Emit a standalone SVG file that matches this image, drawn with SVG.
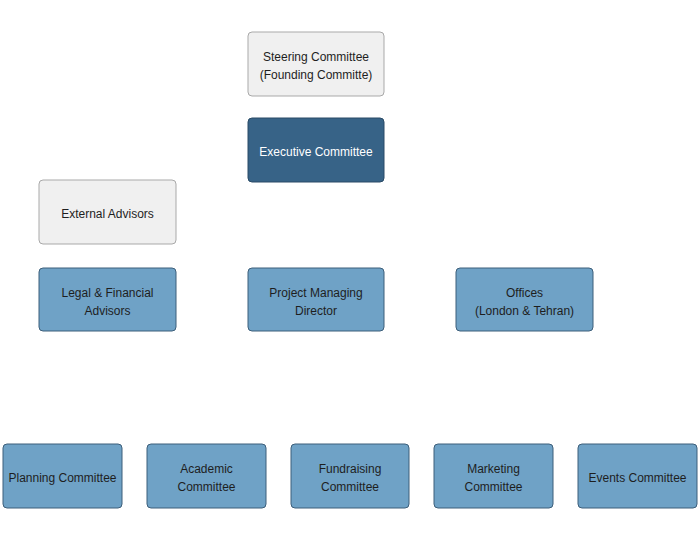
<svg xmlns="http://www.w3.org/2000/svg" width="700" height="540" viewBox="0 0 700 540">
<style>
.n rect{stroke-width:1}
.light rect{fill:#f0f0f0;stroke:#a9a9a9}
.blue rect{fill:#6fa2c6;stroke:#3d5f7a}
.dark rect{fill:#376387;stroke:#2a4b66}
text{font-family:"Liberation Sans",Arial,sans-serif;font-size:12px;text-anchor:middle;fill:#1e1e1e}
.dark text{fill:#ffffff}
</style>
<rect width="700" height="540" fill="#ffffff"/>
<g id="connectors"></g>
<g id="steering" class="n light"><rect x="248" y="32" width="136" height="64" rx="4"/><text x="316" y="61">Steering Committee</text><text x="316" y="79">(Founding Committe)</text></g>
<g id="executive" class="n dark"><rect x="248" y="118" width="136" height="64" rx="4"/><text x="316" y="156">Executive Committee</text></g>
<g id="external" class="n light"><rect x="39" y="180" width="137" height="64" rx="4"/><text x="107.5" y="218">External Advisors</text></g>
<g id="legal" class="n blue"><rect x="39" y="268" width="137" height="63" rx="4"/><text x="107.5" y="297">Legal &amp; Financial</text><text x="107.5" y="315">Advisors</text></g>
<g id="pmd" class="n blue"><rect x="248" y="268" width="136" height="63" rx="4"/><text x="316" y="297">Project Managing</text><text x="316" y="315">Director</text></g>
<g id="offices" class="n blue"><rect x="456" y="268" width="137" height="63" rx="4"/><text x="524.5" y="297">Offices</text><text x="524.5" y="315">(London &amp; Tehran)</text></g>
<g id="planning" class="n blue"><rect x="3" y="444" width="119" height="64" rx="4"/><text x="62.5" y="482">Planning Committee</text></g>
<g id="academic" class="n blue"><rect x="147" y="444" width="119" height="64" rx="4"/><text x="206.5" y="473">Academic</text><text x="206.5" y="491">Committee</text></g>
<g id="fundraising" class="n blue"><rect x="291" y="444" width="118" height="64" rx="4"/><text x="350" y="473">Fundraising</text><text x="350" y="491">Committee</text></g>
<g id="marketing" class="n blue"><rect x="434" y="444" width="119" height="64" rx="4"/><text x="493.5" y="473">Marketing</text><text x="493.5" y="491">Committee</text></g>
<g id="events" class="n blue"><rect x="578" y="444" width="119" height="64" rx="4"/><text x="637.5" y="482">Events Committee</text></g>
</svg>
